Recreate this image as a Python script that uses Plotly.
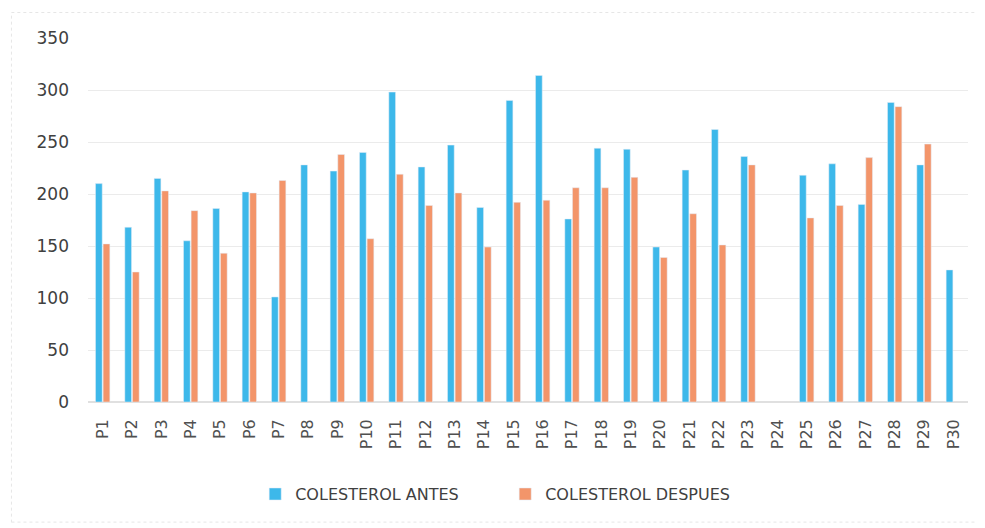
import plotly.graph_objects as go

categories = [f"P{i}" for i in range(1, 31)]
antes = [210, 168, 215, 155, 186, 202, 101, 228, 222, 240, 298, 226, 247, 187, 290, 314, 176, 244, 243, 149,
         223, 262, 236, None, 218, 229, 190, 288, 228, 127]
despues = [152, 125, 203, 184, 143, 201, 213, None, 238, 157, 219, 189, 201, 149, 192, 194, 206, 206, 216, 139,
           181, 151, 228, None, 177, 189, 235, 284, 248, None]
y_ticks = [0, 50, 100, 150, 200, 250, 300, 350]

BLUE = "#3DB8EA"
ORANGE = "#F3956A"
FONT = "DejaVu Sans"

fig = go.Figure()
fig.add_trace(go.Bar(x=categories, y=antes, name="COLESTEROL ANTES", marker_color=BLUE))
fig.add_trace(go.Bar(x=categories, y=despues, name="COLESTEROL DESPUES", marker_color=ORANGE))

fig.update_layout(
    width=985, height=528,
    margin=dict(l=80, r=25, t=30, b=134, autoexpand=False),
    paper_bgcolor="white", plot_bgcolor="white",
    barmode="group", bargap=0.48, bargroupgap=0.12,
    font=dict(family=FONT, color="#404040"),
    legend=dict(orientation="h", x=0.19, xanchor="left", y=-0.253, yanchor="middle",
                font=dict(size=16, color="#404040"), itemwidth=30, traceorder="normal",
                entrywidth=205, entrywidthmode="pixels"),
    xaxis=dict(tickangle=-90, tickfont=dict(size=16, color="#505050"), showgrid=False,
               showline=False, ticks="", ticklabelstandoff=13),
    yaxis=dict(range=[0, 350], tickvals=y_ticks, tickfont=dict(size=17, color="#404040"),
               showgrid=True, gridcolor="#EBEBEB", gridwidth=1, zeroline=True, zerolinecolor="#E0E0E0",
               showline=False, ticks="", ticklabelstandoff=18),
)
fig.add_shape(type="rect", xref="paper", yref="paper", x0=-0.087, x1=1.016, y0=-0.33, y1=1.07,
              line=dict(color="#E6E6E6", width=1, dash="dot"), layer="below")

fig.write_html("out.html")
